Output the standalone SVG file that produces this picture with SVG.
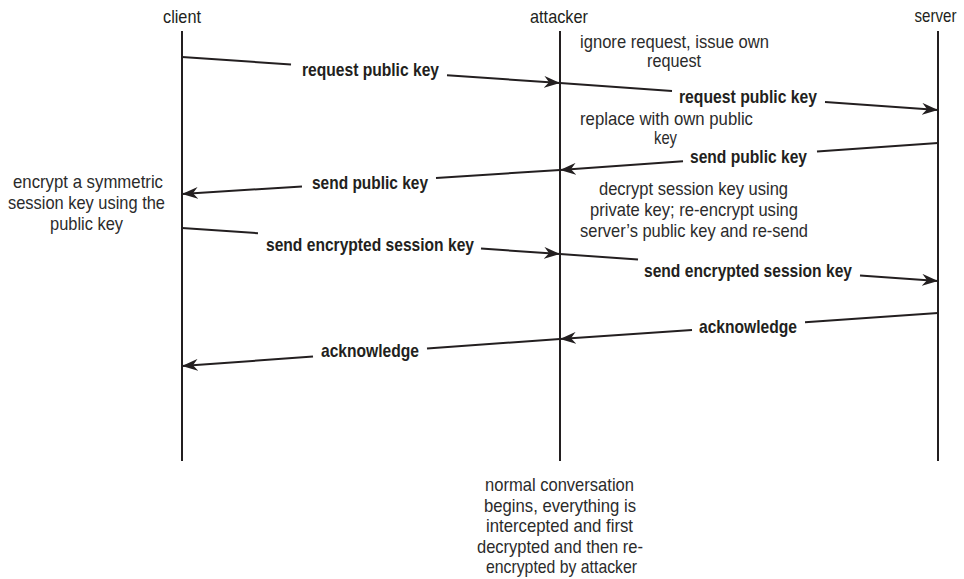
<svg xmlns="http://www.w3.org/2000/svg" width="964" height="579" viewBox="0 0 964 579">
  <defs>
    <style>
      .life { stroke: #231f20; stroke-width: 2; fill: none; }
      .msg { stroke: #231f20; stroke-width: 2; fill: none; }
      .head { font-family: "Liberation Sans", Arial, sans-serif; font-size: 18.5px; fill: #231f20; text-anchor: middle; }
      .note { font-family: "Liberation Sans", Arial, sans-serif; font-size: 18.5px; fill: #2b2b2b; text-anchor: middle; }
      .lbl { font-family: "Liberation Sans", Arial, sans-serif; font-size: 18.5px; font-weight: bold; fill: #231f20; text-anchor: middle; }
    </style>
    <marker id="arrow" viewBox="0 0 16 12" refX="16" refY="6" markerWidth="16" markerHeight="12" markerUnits="userSpaceOnUse" orient="auto">
      <path d="M0,0 L16,6 L0,12 L5,6 Z" fill="#231f20"/>
    </marker>
  </defs>
  <rect width="964" height="579" fill="#ffffff"/>

  <!-- lifelines -->
  <g id="client">
    <text class="head" x="182" y="23" textLength="38" lengthAdjust="spacingAndGlyphs">client</text>
    <line class="life" x1="182" y1="31" x2="182" y2="461"/>
  </g>
  <g id="attacker">
    <text class="head" x="559" y="23" textLength="58" lengthAdjust="spacingAndGlyphs">attacker</text>
    <line class="life" x1="560" y1="31" x2="560" y2="461"/>
  </g>
  <g id="server">
    <text class="head" x="935.5" y="22" textLength="42" lengthAdjust="spacingAndGlyphs">server</text>
    <line class="life" x1="938" y1="31" x2="938" y2="461"/>
  </g>

  <!-- annotations -->
  <g id="note-ignore">
    <text class="note" x="674.5" y="48" textLength="189" lengthAdjust="spacingAndGlyphs">ignore request, issue own</text>
    <text class="note" x="674" y="67" textLength="54" lengthAdjust="spacingAndGlyphs">request</text>
  </g>
  <g id="note-replace">
    <text class="note" x="666.5" y="125" textLength="173" lengthAdjust="spacingAndGlyphs">replace with own public</text>
    <text class="note" x="665.5" y="144" textLength="23" lengthAdjust="spacingAndGlyphs">key</text>
  </g>
  <g id="note-encrypt">
    <text class="note" x="88" y="188" textLength="150" lengthAdjust="spacingAndGlyphs">encrypt a symmetric</text>
    <text class="note" x="86.5" y="209" textLength="157" lengthAdjust="spacingAndGlyphs">session key using the</text>
    <text class="note" x="86.5" y="230" textLength="73" lengthAdjust="spacingAndGlyphs">public key</text>
  </g>
  <g id="note-decrypt">
    <text class="note" x="693.5" y="195" textLength="189" lengthAdjust="spacingAndGlyphs">decrypt session key using</text>
    <text class="note" x="694" y="216" textLength="208" lengthAdjust="spacingAndGlyphs">private key; re-encrypt using</text>
    <text class="note" x="694" y="237" textLength="228" lengthAdjust="spacingAndGlyphs">server’s public key and re-send</text>
  </g>
  <g id="note-conversation">
    <text class="note" x="559.5" y="491" textLength="149" lengthAdjust="spacingAndGlyphs">normal conversation</text>
    <text class="note" x="560" y="512" textLength="152" lengthAdjust="spacingAndGlyphs">begins, everything is</text>
    <text class="note" x="559.5" y="532" textLength="147" lengthAdjust="spacingAndGlyphs">intercepted and first</text>
    <text class="note" x="560" y="553" textLength="166" lengthAdjust="spacingAndGlyphs">decrypted and then re-</text>
    <text class="note" x="561.5" y="573" textLength="151" lengthAdjust="spacingAndGlyphs">encrypted by attacker</text>
  </g>

  <!-- messages: each line is broken around its label -->
  <g id="connectors">
    <path class="msg" d="M182,57 L291,64.5"/>
    <path class="msg" d="M447,75.3 L560,83" marker-end="url(#arrow)"/>
    <text class="lbl" x="370.5" y="76" textLength="137" lengthAdjust="spacingAndGlyphs">request public key</text>

    <path class="msg" d="M560,83 L672,91"/>
    <path class="msg" d="M825,101.9 L938,110" marker-end="url(#arrow)"/>
    <text class="lbl" x="748" y="103" textLength="138" lengthAdjust="spacingAndGlyphs">request public key</text>

    <path class="msg" d="M938,143 L817,151.6"/>
    <path class="msg" d="M683,161.2 L560,170" marker-end="url(#arrow)"/>
    <text class="lbl" x="748.5" y="163" textLength="117" lengthAdjust="spacingAndGlyphs">send public key</text>

    <path class="msg" d="M560,170 L436,177.9"/>
    <path class="msg" d="M302,186.4 L182,194" marker-end="url(#arrow)"/>
    <text class="lbl" x="370" y="189" textLength="116" lengthAdjust="spacingAndGlyphs">send public key</text>

    <path class="msg" d="M182,228 L258,233.2"/>
    <path class="msg" d="M481,248.6 L560,254" marker-end="url(#arrow)"/>
    <text class="lbl" x="370" y="251" textLength="208" lengthAdjust="spacingAndGlyphs">send encrypted session key</text>

    <path class="msg" d="M560,254 L638,259.6"/>
    <path class="msg" d="M860,275.4 L938,281" marker-end="url(#arrow)"/>
    <text class="lbl" x="748" y="277" textLength="208" lengthAdjust="spacingAndGlyphs">send encrypted session key</text>

    <path class="msg" d="M938,313 L805,322.2"/>
    <path class="msg" d="M692,330 L560,339" marker-end="url(#arrow)"/>
    <text class="lbl" x="748" y="333" textLength="98" lengthAdjust="spacingAndGlyphs">acknowledge</text>

    <path class="msg" d="M560,339 L427,348.5"/>
    <path class="msg" d="M313,356.6 L182,366" marker-end="url(#arrow)"/>
    <text class="lbl" x="370" y="357" textLength="98" lengthAdjust="spacingAndGlyphs">acknowledge</text>
  </g>
</svg>
